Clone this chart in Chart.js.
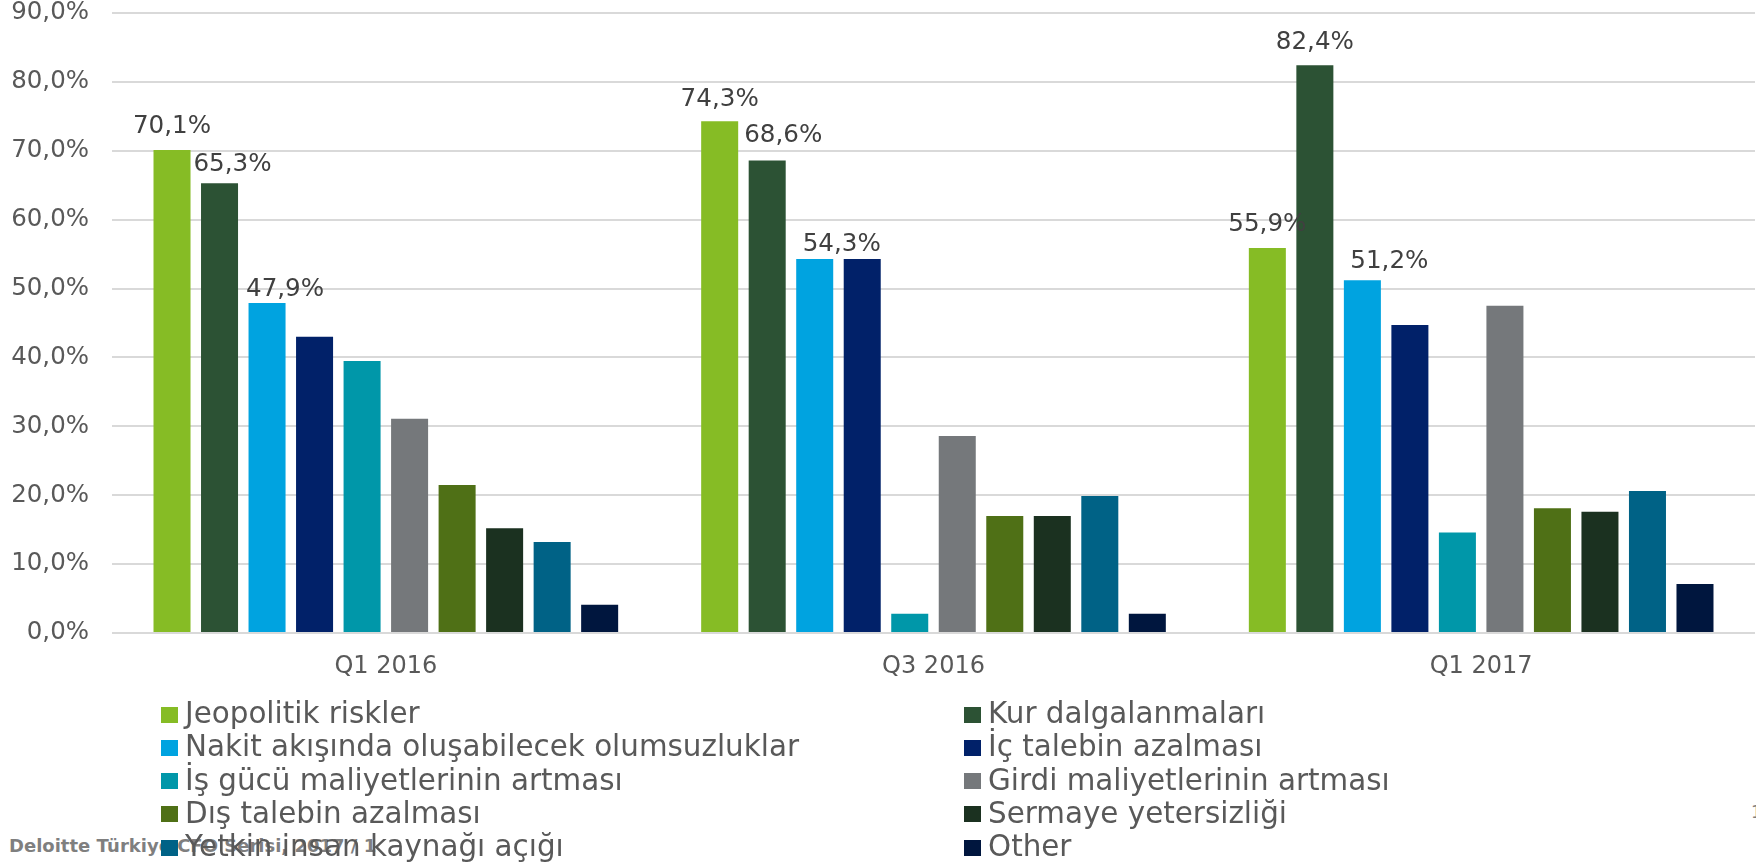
<!DOCTYPE html>
<html>
<head>
<meta charset="utf-8">
<script src="https://cdn.jsdelivr.net/npm/chart.js@4.4.1/dist/chart.umd.min.js"></script>
<style>
  html, body { margin: 0; padding: 0; background: #ffffff; }
  #wrap { position: relative; width: 1756px; height: 862px; overflow: hidden; }
  #chartBox { position: absolute; left: 0; top: 0; width: 1756px; height: 862px; }
  .footer { position: absolute; left: 9px; top: 836.8px; font-family: "DejaVu Sans"; font-weight: bold; font-size: 18px; line-height: 18px; color: #7f7f7f; white-space: nowrap; }
  .pagenum { position: absolute; left: 1751px; top: 804px; font-family: "DejaVu Sans"; font-size: 17px; line-height: 17px; color: #7f7f7f; }
  .lg-sw { position: absolute; width: 17px; height: 16px; }
  .lg-tx { position: absolute; font-family: "DejaVu Sans"; font-size: 29.4px; line-height: 29.4px; color: #595959; white-space: nowrap; }
</style>
</head>
<body>
<div id="wrap">
  <div class="footer">Deloitte Türkiye CFO Serisi, 2017 / 1</div>
  <div class="pagenum">1</div>
  <div id="chartBox"><canvas id="c"></canvas></div>
  <div id="legend"></div>
</div>
<script>
// ---------- data ----------
const categories = ["Q1 2016", "Q3 2016", "Q1 2017"];

const seriesNames = [
  "Jeopolitik riskler",
  "Kur dalgalanmaları",
  "Nakit akışında oluşabilecek olumsuzluklar",
  "İç talebin azalması",
  "İş gücü maliyetlerinin artması",
  "Girdi maliyetlerinin artması",
  "Dış talebin azalması",
  "Sermaye yetersizliği",
  "Yetkin insan kaynağı açığı",
  "Other"
];

const jeopolitik   = [70.1, 74.3, 55.9];
const kur          = [65.3, 68.6, 82.4];
const nakit        = [47.9, 54.3, 51.2];
const icTalep      = [43.0, 54.3, 44.7];
const isGucu       = [39.5, 2.8, 14.6];
const girdi        = [31.1, 28.6, 47.5];
const disTalep     = [21.5, 17.0, 18.1];
const sermaye      = [15.2, 17.0, 17.6];
const yetkin       = [13.2, 19.9, 20.6];
const other        = [4.1, 2.8, 7.1];

const seriesValues = [jeopolitik, kur, nakit, icTalep, isGucu, girdi, disTalep, sermaye, yetkin, other];

const yTicks = [0, 10, 20, 30, 40, 50, 60, 70, 80, 90];

// ---------- styles ----------
const seriesColors = [
  "#86BC25", "#2C5234", "#00A3E0", "#012169", "#0097A9",
  "#75787B", "#4F7016", "#1B3120", "#006286", "#00163E"
];
// data labels shown for the first three series; [dx, gap above bar] per category
const labelledSeries = [0, 1, 2];
const labelOffsets = {
  0: [[0, 17], [0, 15], [0, 17]],
  1: [[13, 12], [16, 18.5], [0, 16.5]],
  2: [[18, 7.5], [27, 7.5], [27, 12]]
};

const fmt = v => v.toFixed(1).replace('.', ',') + '%';

const labelPlugin = {
  id: 'valueLabels',
  afterDatasetsDraw(chart) {
    const ctx = chart.ctx;
    ctx.save();
    ctx.font = '24.6px "DejaVu Sans"';
    ctx.fillStyle = '#404040';
    ctx.textAlign = 'center';
    ctx.textBaseline = 'alphabetic';
    labelledSeries.forEach(di => {
      const meta = chart.getDatasetMeta(di);
      meta.data.forEach((bar, j) => {
        const v = chart.data.datasets[di].data[j];
        const off = labelOffsets[di][j];
        ctx.fillText(fmt(v), bar.x + off[0], bar.y - off[1]);
      });
    });
    ctx.restore();
  }
};

const datasets = seriesNames.map((name, i) => ({
  label: name,
  data: seriesValues[i],
  backgroundColor: seriesColors[i],
  borderWidth: 0,
  categoryPercentage: 0.8676,
  barPercentage: 0.779
}));

const chart = new Chart(document.getElementById('c'), {
  type: 'bar',
  data: { labels: categories, datasets },
  options: {
    responsive: true,
    maintainAspectRatio: false,
    animation: false,
    layout: { padding: { left: 0, right: 1, top: 13, bottom: 0 } },
    plugins: { legend: { display: false }, tooltip: { enabled: false } },
    scales: {
      x: {
        grid: { display: false, drawTicks: false },
        border: { display: false },
        ticks: { font: { family: 'DejaVu Sans', size: 24 }, color: '#595959', padding: 19 },
        afterFit(s) { s.height = 862 - 633; s.paddingTop = 0; s.paddingBottom = 0; }
      },
      y: {
        min: 0, max: 90,
        afterBuildTicks(s) { s.ticks = yTicks.map(v => ({ value: v })); },
        ticks: {
          font: { family: 'DejaVu Sans', size: 24.5, lineHeight: 1.1 },
          color: '#595959',
          padding: 23,
          callback: v => fmt(v)
        },
        grid: { color: '#d9d9d9', lineWidth: 2, drawTicks: false },
        border: { display: false },
        afterFit(s) { s.width = 112; s.paddingTop = 0; s.paddingBottom = 0; }
      }
    }
  },
  plugins: [labelPlugin]
});

// ---------- legend (HTML, built from series arrays) ----------
const legend = document.getElementById('legend');
seriesNames.forEach((name, i) => {
  const col = i % 2, row = Math.floor(i / 2);
  const sx = col === 0 ? 161 : 964;
  const sy = 706.5 + row * 33.3;
  const sw = document.createElement('div');
  sw.className = 'lg-sw';
  sw.style.left = sx + 'px';
  sw.style.top = sy + 'px';
  sw.style.background = seriesColors[i];
  legend.appendChild(sw);
  const tx = document.createElement('div');
  tx.className = 'lg-tx';
  tx.style.left = (sx + 24) + 'px';
  tx.style.top = (sy + 17.5 - 24.9) + 'px';
  tx.textContent = name;
  legend.appendChild(tx);
});
</script>
</body>
</html>
